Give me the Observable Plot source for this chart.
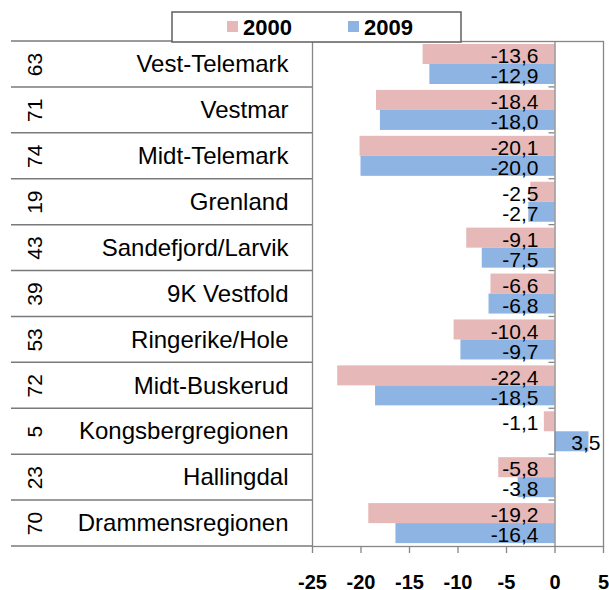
<!DOCTYPE html>
<html>
<head>
<meta charset="utf-8">
<script src="https://cdn.jsdelivr.net/npm/d3@7"></script>
<script src="https://cdn.jsdelivr.net/npm/@observablehq/plot@0.6"></script>
<style>
  html, body { margin: 0; padding: 0; background: #fff; }
  svg { display: block; }
</style>
</head>
<body>
<div id="chart"></div>
<script>
const regions = ["Vest-Telemark","Vestmar","Midt-Telemark","Grenland","Sandefjord/Larvik","9K Vestfold","Ringerike/Hole","Midt-Buskerud","Kongsbergregionen","Hallingdal","Drammensregionen"];
const codes = [63,71,74,19,43,39,53,72,5,23,70];
const v2000 = [-13.6,-18.4,-20.1,-2.5,-9.1,-6.6,-10.4,-22.4,-1.1,-5.8,-19.2];
const v2009 = [-12.9,-18.0,-20.0,-2.7,-7.5,-6.8,-9.7,-18.5,3.5,-3.8,-16.4];
const xTicks = [-25,-20,-15,-10,-5,0,5];
const years = ["2000","2009"];
const colors = ["#E6B9B8","#8EB4E3"];

const font = "'Liberation Sans', Arial, sans-serif";
const fmt = v => (v < 0 ? "-" : "") + Math.abs(v).toFixed(1).replace(".", ",");
const d2000 = regions.map((r, i) => ({region: r, value: v2000[i]}));
const d2009 = regions.map((r, i) => ({region: r, value: v2009[i]}));
const codeData = regions.map((r, i) => ({region: r, code: String(codes[i])}));
const gray = "#868686";

const chart = Plot.plot({
  width: 609,
  height: 590,
  marginTop: 41,
  marginBottom: 44,
  marginLeft: 312,
  marginRight: 6,
  style: {fontFamily: font, background: "#fff", color: "#000"},
  x: {domain: [-25, 5], label: null},
  y: {domain: regions, padding: 0, round: false, label: null},
  marks: [
    Plot.barX(d2000, {x1: 0, x2: "value", y: "region", fill: colors[0], insetTop: 3, insetBottom: 22.9}),
    Plot.barX(d2009, {x1: 0, x2: "value", y: "region", fill: colors[1], insetTop: 23, insetBottom: 2.9}),
    Plot.frame({stroke: gray, strokeWidth: 1.3}),
    Plot.ruleX([0], {stroke: gray, strokeWidth: 1.3}),
    Plot.text(d2000.filter(d => d.value <= 0), {x: 0, y: "region", text: d => fmt(d.value), textAnchor: "end", dx: -16.5, dy: -8, fontSize: 21, fill: "#000"}),
    Plot.text(d2009.filter(d => d.value <= 0), {x: 0, y: "region", text: d => fmt(d.value), textAnchor: "end", dx: -16.5, dy: 12, fontSize: 21, fill: "#000"}),
    Plot.text(d2000.filter(d => d.value > 0), {x: "value", y: "region", text: d => fmt(d.value), textAnchor: "end", dx: 11.5, dy: -8, fontSize: 21, fill: "#000"}),
    Plot.text(d2009.filter(d => d.value > 0), {x: "value", y: "region", text: d => fmt(d.value), textAnchor: "end", dx: 11.5, dy: 12, fontSize: 21, fill: "#000"}),
    Plot.axisX({ticks: xTicks, label: null, tickSize: 7, tickPadding: 21, stroke: gray, strokeWidth: 1.3, fontSize: 20, fontWeight: "bold", tickFormat: d => (d < 0 ? "-" : "") + Math.abs(d), fill: "#000"}),
    Plot.axisY({label: null, tickSize: 0, tickPadding: 24, fontSize: 24, fill: "#000"}),
    Plot.text(codeData, {y: "region", text: "code", frameAnchor: "left", dx: -277, rotate: -90, textAnchor: "middle", fontSize: 21, fill: "#000"})
  ]
});

document.getElementById("chart").appendChild(chart);

// table lines, zero-line ticks and legend
const svg = d3.select(chart);
const ys = chart.scale("y");
const xs = chart.scale("x");
const x0 = xs.apply(0);
const left = xs.apply(-25);
const bounds = regions.map(r => ys.apply(r));
bounds.push(bounds[bounds.length - 1] + ys.bandwidth);
const g = svg.append("g");
bounds.forEach((b, i) => {
  g.append("line").attr("x1", 11).attr("x2", left).attr("y1", b).attr("y2", b)
    .attr("stroke", "#7a7a7a").attr("stroke-width", 1.5);
  if (i > 0 && i < bounds.length - 1) {
    g.append("line").attr("x1", x0 - 6).attr("x2", x0).attr("y1", b).attr("y2", b)
      .attr("stroke", gray).attr("stroke-width", 1.3);
  }
});

const lg = svg.append("g").attr("text-anchor", "start");
lg.append("rect").attr("x", 172).attr("y", 12).attr("width", 289).attr("height", 30)
  .attr("fill", "#fff").attr("stroke", "#5f5f5f").attr("stroke-width", 1.5);
const lx = [227, 348];
years.forEach((yr, i) => {
  lg.append("rect").attr("x", lx[i]).attr("y", 21).attr("width", 11).attr("height", 11).attr("fill", colors[i]);
  lg.append("text").attr("x", lx[i] + 16).attr("y", 35).text(yr)
    .attr("text-anchor", "start")
    .attr("font-family", font).attr("font-size", 22).attr("font-weight", "bold").attr("fill", "#000");
});
</script>
</body>
</html>
